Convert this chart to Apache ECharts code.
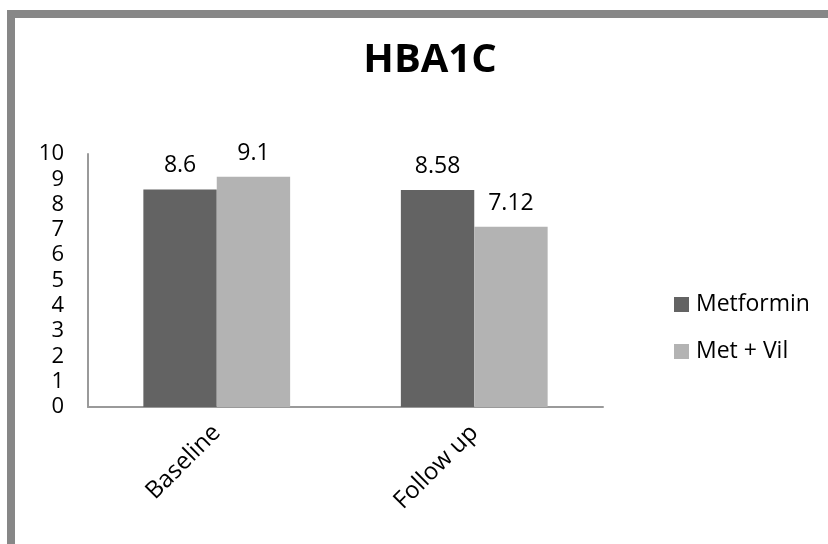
<!DOCTYPE html>
<html>
<head>
<meta charset="utf-8">
<title>HBA1C</title>
<script src="https://cdn.jsdelivr.net/npm/echarts@6/dist/echarts.min.js"></script>
<style>
  html, body { margin: 0; padding: 0; background: #fff; }
  #chart { width: 828px; height: 544px; }
</style>
</head>
<body>
<div id="chart"></div>
<script>
// HbA1c at baseline and follow up, per treatment arm
const categories = ['Baseline', 'Follow up'];
const metformin = [8.6, 8.58];
const metVil = [9.1, 7.12];
const seriesNames = ['Metformin', 'Met + Vil'];

const FONT = '"Open Sans", "Noto Sans", sans-serif';

const chart = echarts.init(document.getElementById('chart'), null, { renderer: 'canvas' });

const labelStyle = {
  show: true,
  position: 'top',
  distance: 12,
  color: '#000',
  fontFamily: FONT,
  fontSize: 23
};

chart.setOption({
  animation: false,
  backgroundColor: '#fff',
  title: {
    text: 'HBA1C',
    left: 425,
    top: 36,
    textAlign: 'center',
    textStyle: { fontFamily: FONT, fontWeight: 'bold', fontSize: 40, color: '#000' }
  },
  graphic: [{
    type: 'rect',
    shape: { x: 11, y: 14, width: 900, height: 600 },
    style: { fill: 'none', stroke: '#878787', lineWidth: 8 },
    silent: true
  }],
  legend: {
    orient: 'vertical',
    left: 669,
    top: 288,
    itemWidth: 15,
    itemHeight: 15,
    itemGap: 24,
    icon: 'rect',
    data: seriesNames,
    textStyle: { fontFamily: FONT, fontSize: 23, color: '#000', padding: [0, 0, 0, 2] }
  },
  grid: {
    left: 88,
    right: 225,
    top: 154,
    bottom: 137,
    containLabel: false,
    outerBoundsMode: 'none'
  },
  xAxis: {
    type: 'category',
    data: categories,
    axisLine: { show: true, lineStyle: { color: '#9a9a9a', width: 2 } },
    axisTick: { show: false },
    axisLabel: {
      rotate: 45,
      margin: 22,
      color: '#000',
      fontFamily: FONT,
      fontSize: 24
    },
    splitLine: { show: false }
  },
  yAxis: {
    type: 'value',
    min: 0,
    max: 10,
    interval: 1,
    axisLine: { show: true, lineStyle: { color: '#9a9a9a', width: 2 } },
    axisTick: { show: false },
    axisLabel: {
      margin: 24,
      color: '#000',
      fontFamily: FONT,
      fontSize: 22
    },
    splitLine: { show: false }
  },
  series: [
    {
      name: seriesNames[0],
      type: 'bar',
      data: metformin,
      barGap: '0%',
      barCategoryGap: '43%',
      itemStyle: { color: '#636363' },
      label: labelStyle
    },
    {
      name: seriesNames[1],
      type: 'bar',
      data: metVil,
      barGap: '0%',
      barCategoryGap: '43%',
      itemStyle: { color: '#b3b3b3' },
      label: labelStyle
    }
  ]
});
</script>
</body>
</html>
